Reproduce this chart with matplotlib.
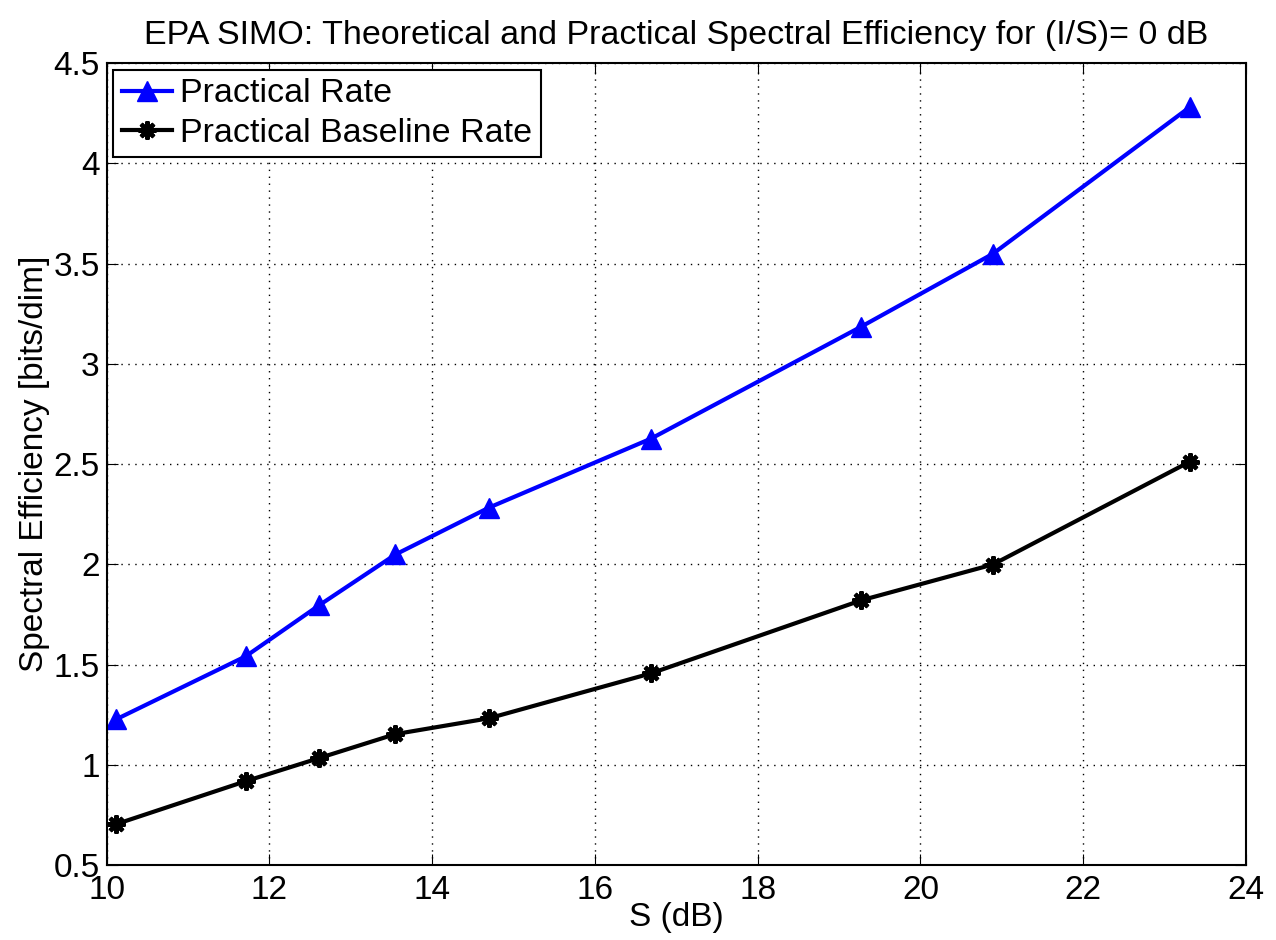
import matplotlib.pyplot as plt

plt.rcParams['font.family'] = ['Liberation Sans', 'DejaVu Sans']

snr_db = [10.12, 11.71, 12.61, 13.55, 14.70, 16.69, 19.27, 20.89, 23.31]
practical_rate = [1.227, 1.541, 1.795, 2.049, 2.283, 2.627, 3.185, 3.549, 4.281]
baseline_rate = [0.704, 0.918, 1.033, 1.153, 1.232, 1.456, 1.820, 1.999, 2.512]

fig = plt.figure(figsize=(12.76, 9.4), dpi=100)
ax = fig.add_axes([0.0835, 0.0798, 0.893, 0.853])

ax.plot(snr_db, practical_rate, color='blue', lw=3, marker='^', ms=14,
        label='Practical Rate')
ax.plot(snr_db, baseline_rate, color='black', lw=3, marker=(8, 2, 0), ms=13,
        mew=3, label='Practical Baseline Rate')

ax.set_xlim(10, 24)
ax.set_ylim(0.5, 4.5)
ax.set_xticks(range(10, 25, 2))
ax.set_yticks([0.5, 1, 1.5, 2, 2.5, 3, 3.5, 4, 4.5])
ax.set_yticklabels(['0.5', '1', '1.5', '2', '2.5', '3', '3.5', '4', '4.5'])
ax.grid(True, linestyle=(0, (1, 4)), color='black', lw=1)
ax.tick_params(direction='in', length=8, labelsize=24, top=True, right=True)
ax.tick_params(axis='x', pad=7)
ax.tick_params(axis='y', pad=5)
for s in ax.spines.values():
    s.set_linewidth(1.5)

ax.set_xlabel('S (dB)', fontsize=24, labelpad=-3)
ax.set_ylabel('Spectral Efficiency [bits/dim]', fontsize=24, labelpad=2)
ax.set_title('EPA SIMO: Theoretical and Practical Spectral Efficiency for (I/S)= 0 dB',
             fontsize=24.5, pad=14)

leg = ax.legend(loc='upper left', fontsize=24.5, fancybox=False, framealpha=1,
                edgecolor='black', borderaxespad=0.2, handlelength=1.47,
                handletextpad=0.24, borderpad=0.25, labelspacing=0.25)
leg.get_frame().set_linewidth(1.5)

fig.savefig('out.png', dpi=100)
